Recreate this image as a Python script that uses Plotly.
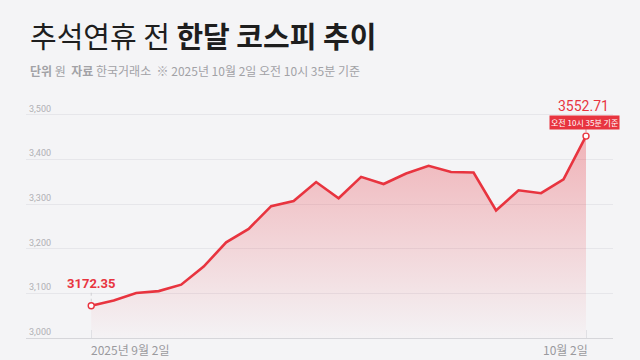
import plotly.graph_objects as go

# ---- data ----
dates = ["9/2", "9/3", "9/4", "9/5", "9/8", "9/9", "9/10", "9/11", "9/12", "9/15",
         "9/16", "9/17", "9/18", "9/19", "9/22", "9/23", "9/24", "9/25", "9/26",
         "9/29", "9/30", "10/1", "10/2"]
kospi = [3172.35, 3184.0, 3200.83, 3205.12, 3219.59, 3260.05, 3314.53, 3344.70,
         3395.54, 3407.31, 3449.62, 3413.31, 3461.30, 3445.24, 3468.65, 3486.19,
         3472.14, 3471.11, 3386.05, 3431.21, 3424.60, 3455.83, 3552.71]
y_tickvals = [3100, 3200, 3300, 3400, 3500, 3600]
y_ticktext = ["3,000", "3,100", "3,200", "3,300", "3,400", "3,500"]
x_first_label = "2025년 9월 2일"
x_last_label = "10월 2일"
first_label = "3172.35"
last_label = "3552.71"
last_note = "오전 10시 35분 기준"

RED = "#e8343f"
BG = "#f4f4f6"
FONT = "Noto Sans CJK KR"

fig = go.Figure()

fig.add_trace(go.Scatter(
    x=dates, y=kospi, mode="lines",
    line=dict(color=RED, width=2.6),
    fill="tozeroy",
    fillgradient=dict(type="vertical",
                      colorscale=[[0, "rgba(232,52,63,0.01)"], [1, "rgba(232,52,63,0.34)"]],
                      start=y_tickvals[0], stop=kospi[-1]),
    hoverinfo="skip", showlegend=False,
))

fig.add_trace(go.Scatter(
    x=[dates[0], dates[-1]], y=[kospi[0], kospi[-1]], mode="markers",
    marker=dict(size=6, color="white", line=dict(color=RED, width=1.4)),
    hoverinfo="skip", showlegend=False,
))

n = len(dates)
fig.update_layout(
    width=640, height=360,
    margin=dict(l=26, r=27, t=100, b=22),
    paper_bgcolor=BG, plot_bgcolor=BG,
    font=dict(family=FONT, color="#999999"),
    xaxis=dict(
        type="category", range=[-2.9, n - 1 + 1.2],
        showgrid=False, zeroline=False,
        showline=True, linecolor="#d6d6da", linewidth=1,
        ticks="inside", ticklen=8, tickcolor="#e0e0e4", tickwidth=1,
        tickvals=[dates[0], dates[-1]], showticklabels=False,
    ),
    yaxis=dict(
        range=[y_tickvals[0], 3633.6],
        tickvals=y_tickvals, ticktext=y_ticktext,
        ticklabelposition="inside top",
        tickfont=dict(family="Roboto", size=9, color="#b0b0b4"),
        showgrid=True, gridcolor="#e6e6ea", gridwidth=1,
        zeroline=False, showline=False, ticks="",
    ),
)

# title & subtitle
fig.add_annotation(
    xref="paper", yref="paper", x=0.003, y=1.275, xanchor="left", yanchor="middle",
    text="추석연휴 전 <b>한달 코스피 추이</b>", showarrow=False,
    font=dict(family=FONT, size=29, color="#1e1e1e"),
)
fig.add_annotation(
    xref="paper", yref="paper", x=0.003, y=1.122, xanchor="left", yanchor="middle",
    text="<b>단위</b> 원  <b>자료</b> 한국거래소  ※ 2025년 10월 2일 오전 10시 35분 기준",
    showarrow=False, font=dict(family=FONT, size=12, color="#a2a2a6"),
)

# x labels
fig.add_annotation(
    xref="x", yref="paper", x=dates[0], y=0, yshift=-11, xshift=-2,
    xanchor="left", yanchor="middle", text=x_first_label, showarrow=False,
    font=dict(family=FONT, size=12, color="#9a9a9e"),
)
fig.add_annotation(
    xref="x", yref="paper", x=dates[-1], y=0, yshift=-11, xshift=4,
    xanchor="right", yanchor="middle", text=x_last_label, showarrow=False,
    font=dict(family=FONT, size=12, color="#9a9a9e"),
)

# value labels
fig.add_annotation(
    xref="x", yref="y", x=dates[0], y=kospi[0], yshift=22, yanchor="middle",
    text=f"<b>{first_label}</b>", showarrow=False,
    font=dict(family="Roboto", size=13, color=RED),
)
fig.add_annotation(
    xref="x", yref="y", x=dates[-1], y=kospi[-1], yshift=30, xshift=-3, yanchor="middle",
    text=last_label, showarrow=False,
    font=dict(family="Roboto", size=14, color=RED),
)
fig.add_annotation(
    xref="x", yref="y", x=dates[-1], y=kospi[-1], yshift=14, xshift=-2, yanchor="middle",
    text=last_note, showarrow=False, bgcolor=RED, borderpad=1,
    font=dict(family=FONT, size=8, color="white"),
)

# dotted leader lines
fig.add_shape(type="line", xref="x", yref="y", ysizemode="pixel",
              x0=dates[0], x1=dates[0], yanchor=kospi[0], y0=4, y1=16,
              line=dict(color="#cfcfd3", width=1, dash="dot"))
fig.add_shape(type="line", xref="x", yref="y", ysizemode="pixel",
              x0=dates[-1], x1=dates[-1], yanchor=kospi[-1], y0=4, y1=9,
              line=dict(color="#e88a90", width=1, dash="dot"))

fig.write_html("out.html")
